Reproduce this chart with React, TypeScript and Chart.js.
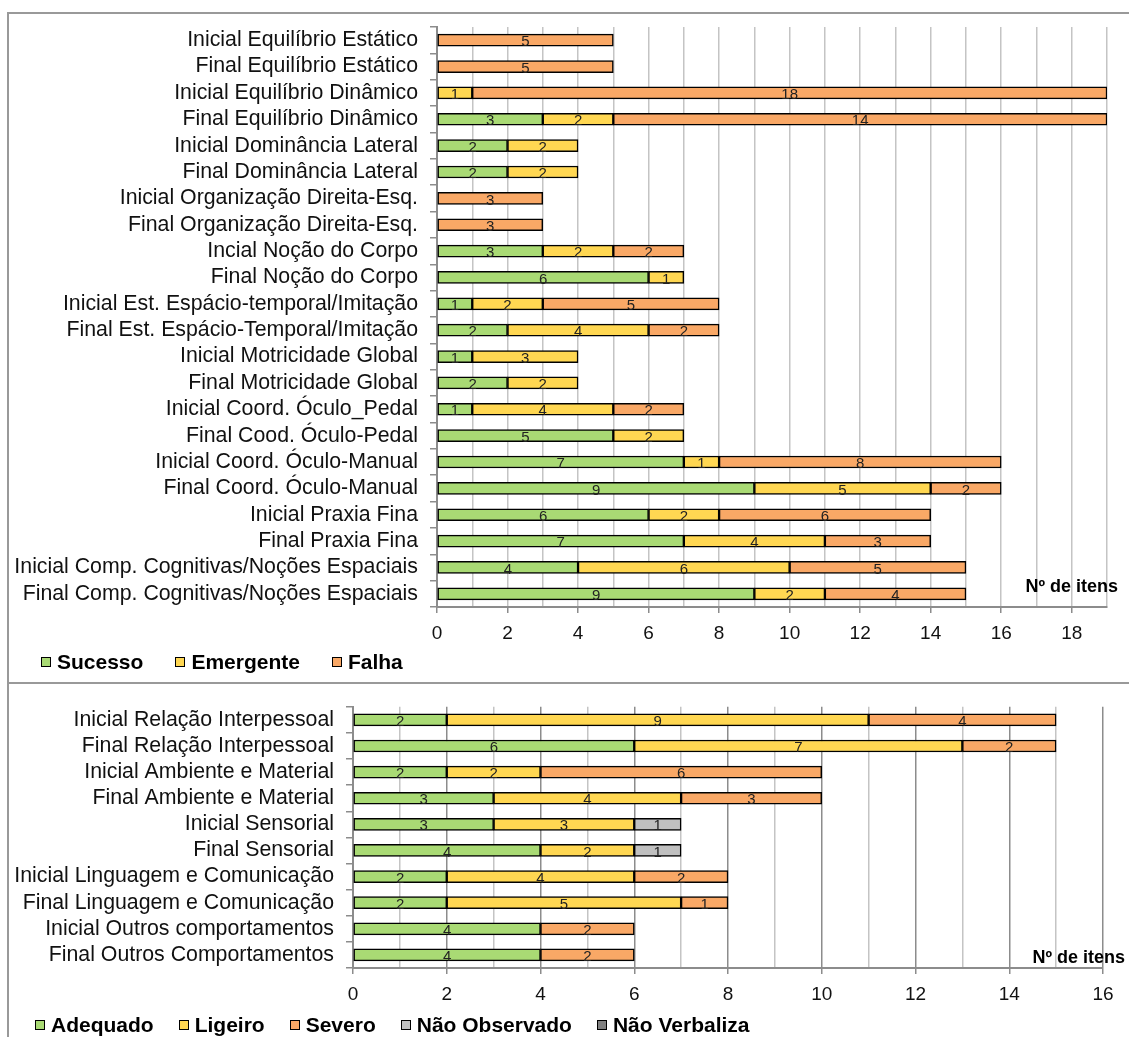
import React, { useEffect, useRef } from 'react';
import { Chart, registerables } from 'chart.js';

Chart.register(...registerables);

const FONT = "'Liberation Sans', Arial, Helvetica, sans-serif";

// ---------- Top chart data ----------
const topCategories = [
  'Inicial Equilíbrio Estático',
  'Final Equilíbrio Estático',
  'Inicial Equilíbrio Dinâmico',
  'Final Equilíbrio Dinâmico',
  'Inicial Dominância Lateral',
  'Final Dominância Lateral',
  'Inicial Organização Direita-Esq.',
  'Final Organização Direita-Esq.',
  'Incial Noção do Corpo',
  'Final Noção do Corpo',
  'Inicial Est. Espácio-temporal/Imitação',
  'Final Est. Espácio-Temporal/Imitação',
  'Inicial Motricidade Global',
  'Final Motricidade Global',
  'Inicial Coord. Óculo_Pedal',
  'Final Cood. Óculo-Pedal',
  'Inicial Coord. Óculo-Manual',
  'Final Coord. Óculo-Manual',
  'Inicial Praxia Fina',
  'Final Praxia Fina',
  'Inicial Comp. Cognitivas/Noções Espaciais',
  'Final Comp. Cognitivas/Noções Espaciais',
];
const topSucesso = [0, 0, 0, 3, 2, 2, 0, 0, 3, 6, 1, 2, 1, 2, 1, 5, 7, 9, 6, 7, 4, 9];
const topEmergente = [0, 0, 1, 2, 2, 2, 0, 0, 2, 1, 2, 4, 3, 2, 4, 2, 1, 5, 2, 4, 6, 2];
const topFalha = [5, 5, 18, 14, 0, 0, 3, 3, 2, 0, 5, 2, 0, 0, 2, 0, 8, 2, 6, 3, 5, 4];
const topSeriesNames = ['Sucesso', 'Emergente', 'Falha'];
const topMax = 19;

// ---------- Bottom chart data ----------
const bottomCategories = [
  'Inicial Relação Interpessoal',
  'Final Relação Interpessoal',
  'Inicial Ambiente e Material',
  'Final Ambiente e Material',
  'Inicial Sensorial',
  'Final Sensorial',
  'Inicial Linguagem e Comunicação',
  'Final Linguagem e Comunicação',
  'Inicial Outros comportamentos',
  'Final Outros Comportamentos',
];
const bottomAdequado = [2, 6, 2, 3, 3, 4, 2, 2, 4, 4];
const bottomLigeiro = [9, 7, 2, 4, 3, 2, 4, 5, 0, 0];
const bottomSevero = [4, 2, 6, 3, 0, 0, 2, 1, 2, 2];
const bottomNaoObservado = [0, 0, 0, 0, 1, 1, 0, 0, 0, 0];
const bottomNaoVerbaliza = [0, 0, 0, 0, 0, 0, 0, 0, 0, 0];
const bottomSeriesNames = ['Adequado', 'Ligeiro', 'Severo', 'Não Observado', 'Não Verbaliza'];
const bottomMax = 16;

const axisTitle = 'Nº de itens';

// ---------- Styles ----------
const GREEN = '#A9DA74';
const YELLOW = '#FFD752';
const ORANGE = '#F9A866';
const LGREY = '#C0C0C0';
const DGREY = '#808080';
const topColors = [GREEN, YELLOW, ORANGE];
const bottomColors = [GREEN, YELLOW, ORANGE, LGREY, DGREY];

const valueLabels = {
  id: 'valueLabels',
  afterDatasetsDraw(chart: any) {
    const ctx = chart.ctx;
    ctx.save();
    ctx.font = `15px ${FONT}`;
    ctx.fillStyle = '#222';
    ctx.textAlign = 'center';
    ctx.textBaseline = 'middle';
    chart.data.datasets.forEach((ds: any, i: number) => {
      const meta = chart.getDatasetMeta(i);
      if (meta.hidden) return;
      meta.data.forEach((el: any, j: number) => {
        const v = ds.data[j];
        if (!v) return;
        const p = el.getProps(['x', 'y', 'base'], true);
        ctx.fillText(String(v), (p.x + p.base) / 2, p.y + 2);
      });
    });
    ctx.restore();
  },
};

const cornerTitle = {
  id: 'cornerTitle',
  afterDraw(chart: any, _args: any, opts: any) {
    const ctx = chart.ctx;
    const a = chart.chartArea;
    ctx.save();
    ctx.font = `bold 18px ${FONT}`;
    ctx.fillStyle = '#000';
    ctx.textAlign = 'right';
    ctx.textBaseline = 'middle';
    ctx.fillText(opts.text, a.right + opts.dx, a.bottom - opts.dy);
    ctx.restore();
  },
};

function buildConfig(
  categories: string[],
  series: number[][],
  names: string[],
  colors: string[],
  max: number,
  yWidth: number,
  xHeight: number,
  padTop: number,
  padRight: number,
  altGrid: boolean,
  titleDx: number,
  titleDy: number
): any {
  return {
    type: 'bar',
    data: {
      labels: categories,
      datasets: series.map((d, i) => ({
        label: names[i],
        data: d,
        backgroundColor: colors[i],
        borderColor: '#000',
        borderWidth: 1.5,
        borderSkipped: false,
        barThickness: 12,
      })),
    },
    options: {
      indexAxis: 'y',
      responsive: false,
      animation: false,
      layout: { padding: { top: padTop, right: padRight, left: 0, bottom: 0 } },
      plugins: {
        legend: { display: false },
        tooltip: { enabled: false },
        cornerTitle: { text: axisTitle, dx: titleDx, dy: titleDy },
      },
      scales: {
        x: {
          stacked: true,
          min: 0,
          max: max,
          afterFit: (s: any) => { s.height = xHeight; },
          ticks: {
            stepSize: 1,
            autoSkip: false,
            maxRotation: 0,
            padding: 9,
            color: '#111',
            font: { family: FONT, size: 19 },
            callback: (v: any) => (Number(v) % 2 === 0 ? String(v) : ''),
          },
          grid: {
            color: (c: any) =>
              altGrid && c.tick && c.tick.value % 2 === 0 ? '#8C8C8C' : '#C4C4C4',
            lineWidth: 1.5,
            tickLength: 6,
            tickColor: (c: any) =>
              c.tick && c.tick.value % 2 === 0 ? '#8C8C8C' : 'rgba(0,0,0,0)',
          },
          border: { display: true, color: '#8C8C8C', width: 2 },
        },
        y: {
          stacked: true,
          afterFit: (s: any) => { s.width = yWidth; },
          ticks: {
            padding: 12,
            color: '#111',
            autoSkip: false,
            font: { family: FONT, size: 21.3 },
          },
          grid: {
            display: true,
            drawOnChartArea: false,
            drawTicks: true,
            tickLength: 7,
            offset: true,
            color: '#8C8C8C',
            lineWidth: 1.5,
          },
          border: { display: true, color: '#8C8C8C', width: 2 },
        },
      },
    },
    plugins: [valueLabels, cornerTitle],
  };
}

function ChartCanvas(props: { width: number; height: number; config: () => any; style: any }) {
  const ref = useRef<HTMLCanvasElement | null>(null);
  useEffect(() => {
    if (!ref.current) return;
    const chart = new Chart(ref.current, props.config());
    return () => chart.destroy();
  }, []);
  return <canvas ref={ref} width={props.width} height={props.height} style={props.style} />;
}

function Legend(props: { names: string[]; colors: string[]; left: number; top: number; gap: number }) {
  return (
    <div
      style={{
        position: 'absolute',
        left: props.left,
        top: props.top,
        display: 'flex',
        alignItems: 'center',
        gap: props.gap,
        fontFamily: FONT,
        fontWeight: 'bold',
        fontSize: 21,
        lineHeight: '24px',
        color: '#000',
        whiteSpace: 'nowrap',
      }}
    >
      {props.names.map((n, i) => (
        <div key={n} style={{ display: 'flex', alignItems: 'center' }}>
          <span
            style={{
              display: 'inline-block',
              width: 8,
              height: 8,
              border: '1px solid #000',
              background: props.colors[i],
              marginRight: 6,
            }}
          />
          <span>{n}</span>
        </div>
      ))}
    </div>
  );
}

export default function App() {
  return (
    <div
      style={{
        position: 'absolute',
        left: 0,
        top: 0,
        width: 1129,
        height: 1037,
        overflow: 'hidden',
        background: '#fff',
      }}
    >
      <div
        style={{
          position: 'absolute',
          left: 7,
          top: 12,
          width: 1140,
          height: 668,
          border: '2px solid #999',
        }}
      />
      <div
        style={{
          position: 'absolute',
          left: 7,
          top: 682,
          width: 1140,
          height: 400,
          borderLeft: '2px solid #999',
        }}
      />
      <ChartCanvas
        width={1129}
        height={680}
        style={{ position: 'absolute', left: 0, top: 0 }}
        config={() =>
          buildConfig(
            topCategories,
            [topSucesso, topEmergente, topFalha],
            topSeriesNames,
            topColors,
            topMax,
            437,
            73,
            27,
            22,
            false,
            11,
            20
          )
        }
      />
      <ChartCanvas
        width={1129}
        height={355}
        style={{ position: 'absolute', left: 0, top: 682 }}
        config={() =>
          buildConfig(
            bottomCategories,
            [bottomAdequado, bottomLigeiro, bottomSevero, bottomNaoObservado, bottomNaoVerbaliza],
            bottomSeriesNames,
            bottomColors,
            bottomMax,
            353,
            69,
            10,
            26,
            true,
            22,
            10
          )
        }
      />
      <Legend names={topSeriesNames} colors={topColors} left={41} top={650} gap={32} />
      <Legend names={bottomSeriesNames} colors={bottomColors} left={35} top={1013} gap={25} />
    </div>
  );
}
